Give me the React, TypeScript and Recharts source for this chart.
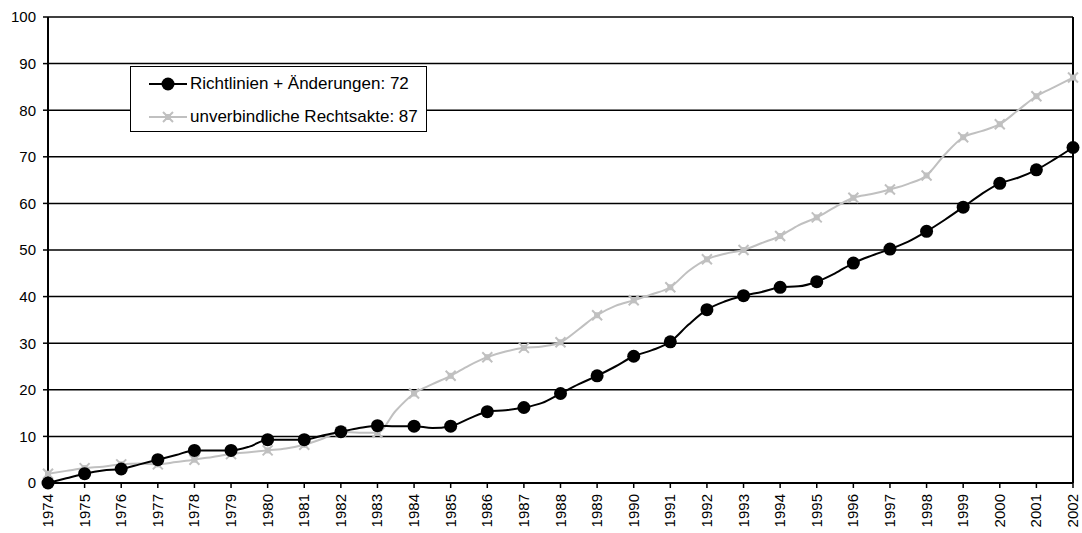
import React from "react";
import {
  LineChart,
  Line,
  XAxis,
  YAxis,
  CartesianGrid,
  ReferenceLine,
} from "recharts";

// half-year steps, markers only on full years
const periods = [
  1974, 1974.5, 1975, 1975.5, 1976, 1976.5, 1977, 1977.5, 1978, 1978.5,
  1979, 1979.5, 1980, 1980.5, 1981, 1981.5, 1982, 1982.5, 1983, 1983.5,
  1984, 1984.5, 1985, 1985.5, 1986, 1986.5, 1987, 1987.5, 1988, 1988.5,
  1989, 1989.5, 1990, 1990.5, 1991, 1991.5, 1992, 1992.5, 1993, 1993.5,
  1994, 1994.5, 1995, 1995.5, 1996, 1996.5, 1997, 1997.5, 1998, 1998.5,
  1999, 1999.5, 2000, 2000.5, 2001, 2001.5, 2002,
];

const richtlinien = [
  0, 1, 2, 2.7, 3, 4, 5, 6, 7, 7,
  7, 7.8, 9.3, 9.3, 9.3, 10.2, 11, 11.8, 12.3, 12.2,
  12.2, 11.8, 12.2, 13.8, 15.3, 15.6, 16.2, 17.2, 19.2, 21.2,
  23, 25, 27.2, 28.5, 30.3, 34, 37.2, 39, 40.2, 41,
  42, 42.2, 43.2, 45, 47.2, 48.8, 50.2, 51.8, 54, 56.5,
  59.2, 62, 64.3, 65.5, 67.2, 69.5, 72,
];

const unverbindlich = [
  2, 2.6, 3.2, 3.5, 4, 4.2, 4, 4.5, 5, 5.6,
  6.2, 6.6, 7, 7.4, 8.2, 9.5, 11, 10.8, 10.8, 15.5,
  19.2, 21.2, 23, 25.2, 27, 28.2, 29, 29.3, 30.2, 33,
  36, 38, 39.2, 40.5, 42, 45.5, 48, 49.2, 50, 51.5,
  53, 55.3, 57, 59.2, 61.2, 62, 63, 64.2, 66, 70.5,
  74.2, 75.5, 77, 80, 83, 85, 87,
];

const yearTicks = periods.filter((p) => Number.isInteger(p));
const valueTicks = [0, 10, 20, 30, 40, 50, 60, 70, 80, 90, 100];

const seriesNames = {
  richtlinien: "Richtlinien + Änderungen: 72",
  unverbindlich: "unverbindliche Rechtsakte: 87",
};

const data = periods.map((p, i) => ({
  period: p,
  richtlinien: richtlinien[i],
  unverbindlich: unverbindlich[i],
}));

const GRAY = "#c0c0c0";
const FONT = "Arial, 'Liberation Sans', sans-serif";

function CircleDot(props: any) {
  const { cx, cy, payload, index } = props;
  if (!Number.isInteger(payload.period)) return <g key={`c${index}`} />;
  return <circle key={`c${index}`} cx={cx} cy={cy} r={6.5} fill="#000" />;
}

function StarShape({ cx, cy }: { cx: number; cy: number }) {
  return (
    <g>
      <rect x={cx - 3} y={cy - 3} width={6} height={6} fill={GRAY} />
      <path
        d={`M${cx - 5},${cy - 5}L${cx + 5},${cy + 5}M${cx + 5},${cy - 5}L${cx - 5},${cy + 5}`}
        stroke={GRAY}
        strokeWidth={2}
      />
    </g>
  );
}

function StarDot(props: any) {
  const { cx, cy, payload, index } = props;
  if (!Number.isInteger(payload.period)) return <g key={`s${index}`} />;
  return (
    <g key={`s${index}`}>
      <StarShape cx={cx} cy={cy} />
    </g>
  );
}

function YearTick({ x, y, payload }: any) {
  const ty = y + 4;
  return (
    <text
      x={x}
      y={ty}
      transform={`rotate(-90 ${x} ${ty})`}
      textAnchor="end"
      dy={5}
      fontSize={15}
      fontFamily={FONT}
      fill="#000"
    >
      {payload.value}
    </text>
  );
}

function LegendBox() {
  const row = { display: "flex", alignItems: "center", height: 33 } as const;
  return (
    <div
      style={{
        position: "absolute",
        left: 130,
        top: 66,
        width: 297,
        height: 66,
        border: "1.5px solid #000",
        background: "#fff",
        fontFamily: FONT,
        fontSize: 17,
        boxSizing: "border-box",
        paddingLeft: 18,
      }}
    >
      <div style={row}>
        <svg width={38} height={16}>
          <line x1={0} y1={8} x2={38} y2={8} stroke="#000" strokeWidth={2} />
          <circle cx={19} cy={8} r={6.5} fill="#000" />
        </svg>
        <span style={{ marginLeft: 3 }}>{seriesNames.richtlinien}</span>
      </div>
      <div style={row}>
        <svg width={38} height={16}>
          <line x1={0} y1={8} x2={38} y2={8} stroke={GRAY} strokeWidth={2} />
          <StarShape cx={19} cy={8} />
        </svg>
        <span style={{ marginLeft: 3 }}>{seriesNames.unverbindlich}</span>
      </div>
    </div>
  );
}

export default function App() {
  return (
    <div
      style={{
        position: "absolute",
        left: 0,
        top: 0,
        width: 1082,
        height: 533,
        background: "#fff",
      }}
    >
      <LineChart
        width={1082}
        height={533}
        data={data}
        margin={{ top: 17, right: 9, bottom: 6, left: 8 }}
      >
        <CartesianGrid
          vertical={false}
          stroke="#000"
          strokeWidth={1.5}
          horizontalValues={valueTicks}
        />
        <XAxis
          dataKey="period"
          type="number"
          domain={[1974, 2002]}
          ticks={yearTicks}
          interval={0}
          height={44}
          tick={<YearTick />}
          tickSize={5}
          axisLine={{ stroke: "#000", strokeWidth: 2 }}
          tickLine={{ stroke: "#000", strokeWidth: 1.5 }}
        />
        <YAxis
          type="number"
          domain={[0, 100]}
          ticks={valueTicks}
          width={40}
          tickSize={5}
          tickMargin={7}
          tick={{ fill: "#000", fontSize: 15, fontFamily: FONT }}
          axisLine={{ stroke: "#000", strokeWidth: 2 }}
          tickLine={{ stroke: "#000", strokeWidth: 1.5 }}
        />
        <ReferenceLine x={2002} stroke="#000" strokeWidth={2} />
        <Line
          dataKey="unverbindlich"
          name={seriesNames.unverbindlich}
          type="monotone"
          stroke={GRAY}
          strokeWidth={2}
          dot={StarDot}
          activeDot={false}
          isAnimationActive={false}
        />
        <Line
          dataKey="richtlinien"
          name={seriesNames.richtlinien}
          type="monotone"
          stroke="#000"
          strokeWidth={2}
          dot={CircleDot}
          activeDot={false}
          isAnimationActive={false}
        />
      </LineChart>
      <LegendBox />
    </div>
  );
}
